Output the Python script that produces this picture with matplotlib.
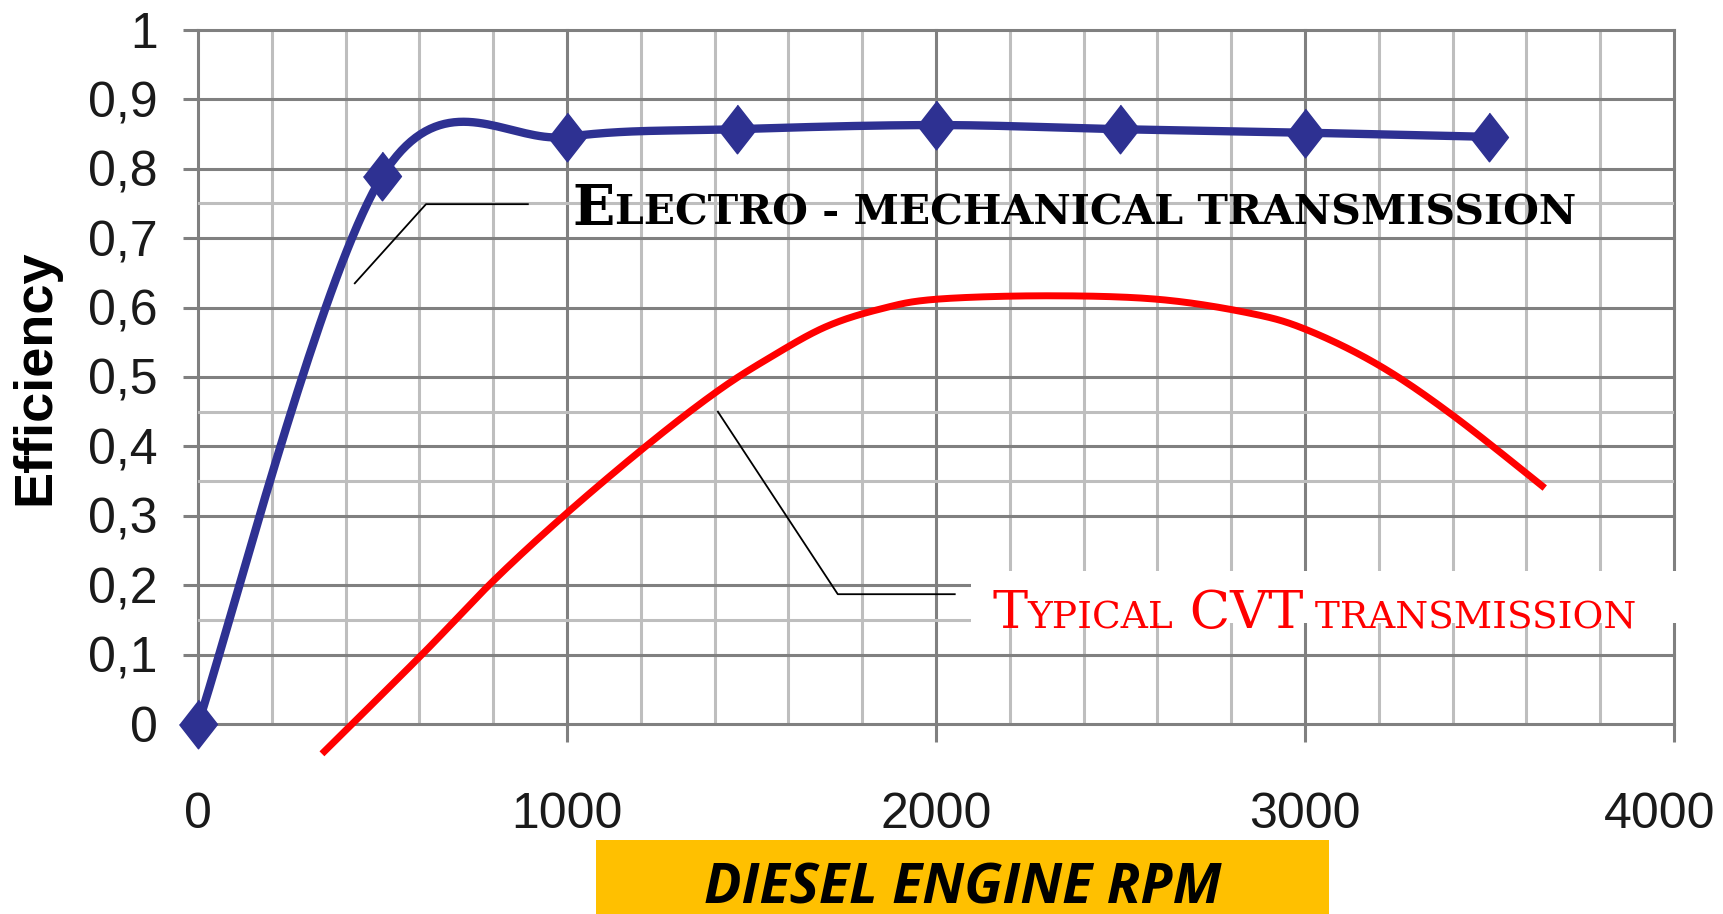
import numpy as np
import matplotlib.pyplot as plt
from matplotlib.patches import Rectangle
from matplotlib.transforms import ScaledTranslation

plt.rcParams['font.family'] = ['Liberation Sans', 'DejaVu Sans']

# electro-mechanical transmission (marker points)
rpm_em = [0, 500, 1000, 1460, 2000, 2500, 3000, 3500]
eff_em = [0.0, 0.79, 0.846, 0.857, 0.863, 0.857, 0.852, 0.846]

# typical CVT transmission
rpm_cvt = [336, 607, 802, 1000, 1225, 1409, 1550, 1700, 1850, 2000, 2300, 2600, 2850, 3005, 3200, 3400, 3650]
eff_cvt = [-0.043, 0.1, 0.207, 0.304, 0.405, 0.48, 0.528, 0.572, 0.598, 0.612, 0.617, 0.612, 0.592, 0.568, 0.517, 0.445, 0.34]

x_major = [0, 1000, 2000, 3000, 4000]
y_major = [0, 0.1, 0.2, 0.3, 0.4, 0.5, 0.6, 0.7, 0.8, 0.9, 1.0]
y_labels = ['0', '0,1', '0,2', '0,3', '0,4', '0,5', '0,6', '0,7', '0,8', '0,9', '1']
y_minor = [0.15, 0.35, 0.45, 0.75]

BLUE = '#2E3192'
RED = '#FF0000'
DARK = '#808080'
LIGHT = '#BEBEBE'


def smooth(xs, ys, n=40):
    # excel-like smoothed line (catmull-rom through the points)
    p = np.column_stack([xs, ys]).astype(float)
    p = np.vstack([p[0], p, p[-1]])
    t = np.linspace(0, 1, n)[:, None]
    h00 = 2 * t**3 - 3 * t**2 + 1
    h10 = t**3 - 2 * t**2 + t
    h01 = -2 * t**3 + 3 * t**2
    h11 = t**3 - t**2
    out = []
    for i in range(1, len(p) - 2):
        m1 = (p[i + 1] - p[i - 1]) / 2
        m2 = (p[i + 2] - p[i]) / 2
        out.append(h00 * p[i] + h10 * m1 + h01 * p[i + 1] + h11 * m2)
    out = np.vstack(out)
    return out[:, 0], out[:, 1]


fig = plt.figure(figsize=(17.23, 9.14), dpi=100)
ax = fig.add_axes([0.1149, 0.2079, 0.8566, 0.7593])
ax.set_xlim(0, 4000)
ax.set_ylim(0, 1)
for s in ax.spines.values():
    s.set_visible(False)

ax.set_xticks(x_major)
ax.set_xticks(np.arange(0, 4001, 200), minor=True)
ax.set_yticks(y_major)
ax.set_yticklabels(y_labels)
ax.set_yticks(y_minor, minor=True)
ax.tick_params(axis='x', which='major', length=13, width=2.2, color=DARK, pad=36,
               labelsize=36, labelcolor='#1a1a1a')
ax.tick_params(axis='y', which='major', length=11, width=2.2, color=DARK, pad=18,
               labelsize=36, labelcolor='#1a1a1a')
ax.tick_params(which='minor', length=0)
ax.set_axisbelow(True)
ax.grid(which='major', color=DARK, lw=2.2)
ax.grid(which='minor', color=LIGHT, lw=2.2)
for gl in ax.get_xgridlines() + ax.get_ygridlines():
    gl.set_clip_on(False)

# last x label sits a little left of its tick, as in the original
last = ax.get_xticklabels()[-1]
last.set_transform(last.get_transform() + ScaledTranslation(-10 / 72, 0, fig.dpi_scale_trans))

# white mask behind the red caption
ax.add_patch(Rectangle((2095, 0.145), 2000, 0.075, facecolor='white', edgecolor='none',
                       zorder=1, clip_on=False))

bx, by = smooth(rpm_em, eff_em)
ax.plot(bx, by, color=BLUE, lw=6, solid_capstyle='round', zorder=3, clip_on=False)
diamond = [(0, 1), (0.78, 0), (0, -1), (-0.78, 0)]
ax.plot(rpm_em, eff_em, ls='none', marker=diamond, ms=35, color=BLUE, zorder=4, clip_on=False)

rx, ry = smooth(rpm_cvt, eff_cvt)
ax.plot(rx, ry, color=RED, lw=5, solid_capstyle='butt', zorder=3, clip_on=False)

# leader lines
ax.plot([425, 618, 894], [0.635, 0.749, 0.749], color='black', lw=1.3, zorder=2)
ax.plot([1409, 1734, 2051], [0.450, 0.187, 0.187], color='black', lw=1.3, zorder=2)

serif = 'DejaVu Serif'
t1 = ax.text(1016, 0.719, 'E', color='black', size=40, family=serif, weight='bold',
             va='baseline', zorder=5)
ax.annotate('LECTRO - MECHANICAL TRANSMISSION', xy=(1, 0.719), xycoords=(t1, 'data'),
            color='black', size=29.5, family=serif, weight='bold', va='baseline', zorder=5)

big, small = 38, 27
r1 = ax.text(2152, 0.138, 'T', color=RED, size=big, family=serif, va='baseline', zorder=5)
r2 = ax.annotate('YPICAL', xy=(1, 0.138), xycoords=(r1, 'data'),
                 color=RED, size=small, family=serif, va='baseline', zorder=5)
r3 = ax.annotate(' CVT', xy=(1, 0.138), xycoords=(r2, 'data'),
                 color=RED, size=big, family=serif, va='baseline', zorder=5)
ax.annotate(' TRANSMISSION', xy=(1, 0.138), xycoords=(r3, 'data'),
            color=RED, size=small, family=serif, va='baseline', zorder=5)

ax.set_ylabel('Efficiency', fontsize=39, fontweight='bold', va='center')
ax.yaxis.set_label_coords(-0.110, 0.5)

fig.patches.append(Rectangle((0.3459, 0), 0.4254, 0.081, transform=fig.transFigure,
                             facecolor='#FFC000', edgecolor='none'))
fig.text(0.5589, 0.0274, 'DIESEL ENGINE RPM', family='Open Sans', fontsize=40,
         fontweight='bold', fontstyle='italic', ha='center', va='center')

fig.savefig('out.png', dpi=100, facecolor='white')
